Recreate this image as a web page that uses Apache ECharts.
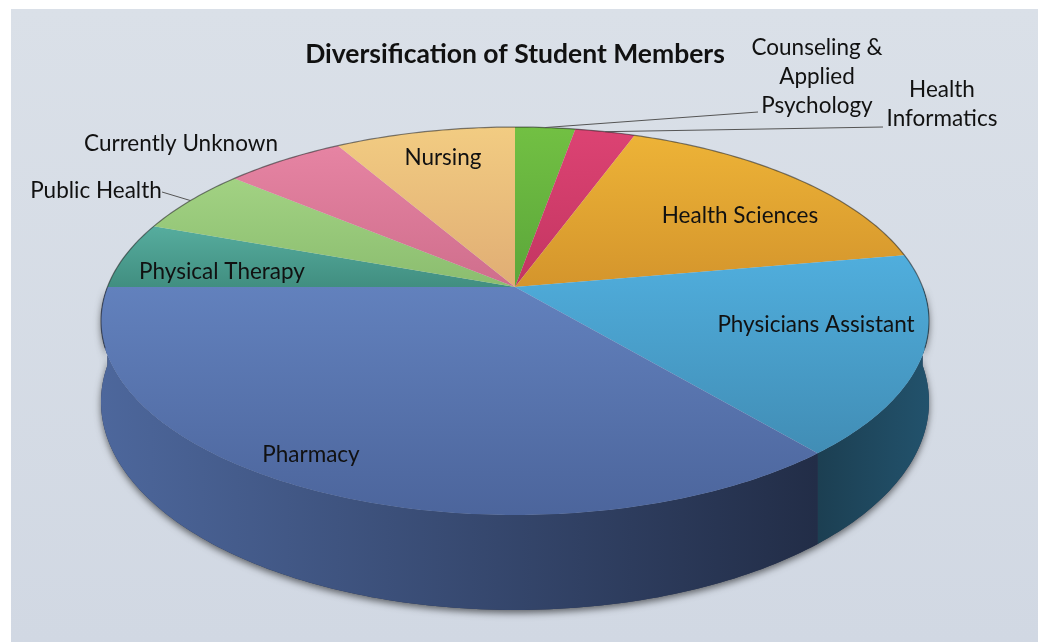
<!DOCTYPE html>
<html>
<head>
<meta charset="utf-8">
<title>Diversification of Student Members</title>
<script src="https://cdn.jsdelivr.net/npm/echarts@6/dist/echarts.min.js"></script>
<style>
    html, body { margin: 0; padding: 0; background: #fff; }
    #chart { width: 1038px; height: 642px; }
</style>
</head>
<body>
<div id="chart"></div>
<script>
    // slices, clockwise from 12 o'clock (same order as the original sheet)
    let programs = ['Counseling &\nApplied\nPsychology', 'Health\nInformatics', 'Health Sciences', 'Physicians Assistant',
        'Pharmacy', 'Physical Therapy', 'Public Health', 'Currently Unknown', 'Nursing']
    let members = [1, 1, 6, 6, 13, 2, 2, 2, 3]

    // top face colours: light -> dark
    let topColors = [
        ['#72c043', '#5ba63a'], ['#dc4373', '#c33561'], ['#edb337', '#d4952c'],
        ['#50aedd', '#418db5'], ['#6281bd', '#4c659c'], ['#56ad9e', '#418e80'],
        ['#a2d283', '#8bbd6f'], ['#e684a3', '#cf6e8c'], ['#f2cc82', '#e0ad74']
    ]
    let sideColors = [
        ['#4a8a2c', '#3c7424'], ['#9a2b4b', '#80223e'], ['#a87420', '#8c601a'],
        ['#1c3f52', '#22526c'], ['#4d679c', '#222d47'], ['#2f6d62', '#255a50'],
        ['#6e9658', '#5b7e48'], ['#a8566f', '#8c465c'], ['#b48a58', '#987448']
    ]
    // label centres and leader line ends (layout only)
    let labelSpots = [[817, 77], [942, 104], [740, 216], [816, 325], [311, 455], [222, 272], [96, 191], [181, 144], [443, 158]]
    let leaderEnds = {0: [758, 112], 1: [883, 127], 6: [162, 192]}

    // perspective of the tilted disc
    const CX = 515, CY = 287, RX = 407.6, RY = 188, K = -0.1752, DEPTH = 78.4

    let total = members.reduce((a, b) => a + b, 0)
    let starts = []
    let acc = 0
    members.forEach(v => { starts.push(acc / total * Math.PI * 2); acc += v })

    function proj(t, r, drop) {
        let u = r * Math.sin(t), v = -r * Math.cos(t)
        let s = 1 + K * v
        return [CX + RX * u / s, CY + (RY * v + drop) / s]
    }

    function arc(a0, a1, drop) {
        let pts = []
        let n = Math.max(2, Math.ceil((a1 - a0) / (Math.PI / 180)))
        for (let k = 0; k <= n; k++) pts.push(proj(a0 + (a1 - a0) * k / n, 1, drop))
        return pts
    }

    function grad(c, horizontal) {
        return new echarts.graphic.LinearGradient(0, 0, horizontal ? 1 : 0, horizontal ? 0 : 1, [
            {offset: 0, color: c[0]}, {offset: 1, color: c[1]}
        ])
    }

    function renderItem(params, api) {
        let i = params.dataIndex
        let a0 = starts[i]
        let a1 = a0 + api.value(0) / total * Math.PI * 2
        let children = []

        if (i === 0) {
            // soft shadow under the whole wall
            let wall = arc(Math.PI / 2, Math.PI * 1.5, 0).concat(arc(Math.PI / 2, Math.PI * 1.5, DEPTH).reverse())
            children.push({
                type: 'polygon', shape: {points: wall}, z2: 1,
                style: {fill: '#2a3550', shadowBlur: 7, shadowOffsetY: 3, shadowColor: 'rgba(0,0,0,0.55)'}
            })
            // dark edge along the back rim
            children.push({
                type: 'polyline', shape: {points: arc(-Math.PI * 0.6, Math.PI * 0.6, 0)}, z2: 20,
                style: {stroke: 'rgba(30,30,30,0.55)', lineWidth: 1.2, fill: null}
            })
        }

        // outer wall (front half only)
        let s0 = Math.max(a0, Math.PI / 2), s1 = Math.min(a1, Math.PI * 1.5)
        if (s1 > s0) {
            let pts = arc(s0, s1, 0).concat(arc(s0, s1, DEPTH).reverse())
            children.push({type: 'polygon', shape: {points: pts}, z2: 5, style: {fill: grad(sideColors[i], true)}})
        }

        // top face
        let top = [proj(0, 0, 0)].concat(arc(a0, a1, 0))
        children.push({type: 'polygon', shape: {points: top}, z2: 10, style: {fill: grad(topColors[i], false)}})

        // label
        let p = labelSpots[i]
        children.push({
            type: 'text', x: p[0], y: p[1], z2: 30,
            style: {
                text: programs[i], align: 'center', verticalAlign: 'middle',
                fontFamily: 'Lato', fontSize: 22.5, lineHeight: 29, fill: '#111'
            }
        })

        if (leaderEnds[i]) {
            let m = proj((a0 + a1) / 2, 1, 0)
            children.push({
                type: 'polyline', shape: {points: [m, leaderEnds[i]]}, z2: 25,
                style: {stroke: '#555', lineWidth: 1, fill: null}
            })
        }

        return {type: 'group', children: children}
    }

    let chart = echarts.init(document.getElementById('chart'))
    chart.setOption({
        backgroundColor: '#fff',
        animation: false,
        graphic: [
            {
                type: 'rect', z: -10, shape: {x: 11, y: 9, width: 1027, height: 633},
                style: {
                    fill: new echarts.graphic.LinearGradient(0, 0, 0, 1, [
                        {offset: 0, color: '#dae0e8'}, {offset: 1, color: '#d1d8e3'}
                    ])
                }
            },
            {
                type: 'text', x: 515, y: 54, z: 10,
                style: {
                    text: 'Diversification of Student Members', align: 'center', verticalAlign: 'middle',
                    fontFamily: 'Lato', fontWeight: 'bold', fontSize: 26.5, fill: '#111'
                }
            }
        ],
        series: [{
            type: 'custom',
            coordinateSystem: 'none',
            renderItem: renderItem,
            data: members
        }]
    })
</script>
</body>
</html>
